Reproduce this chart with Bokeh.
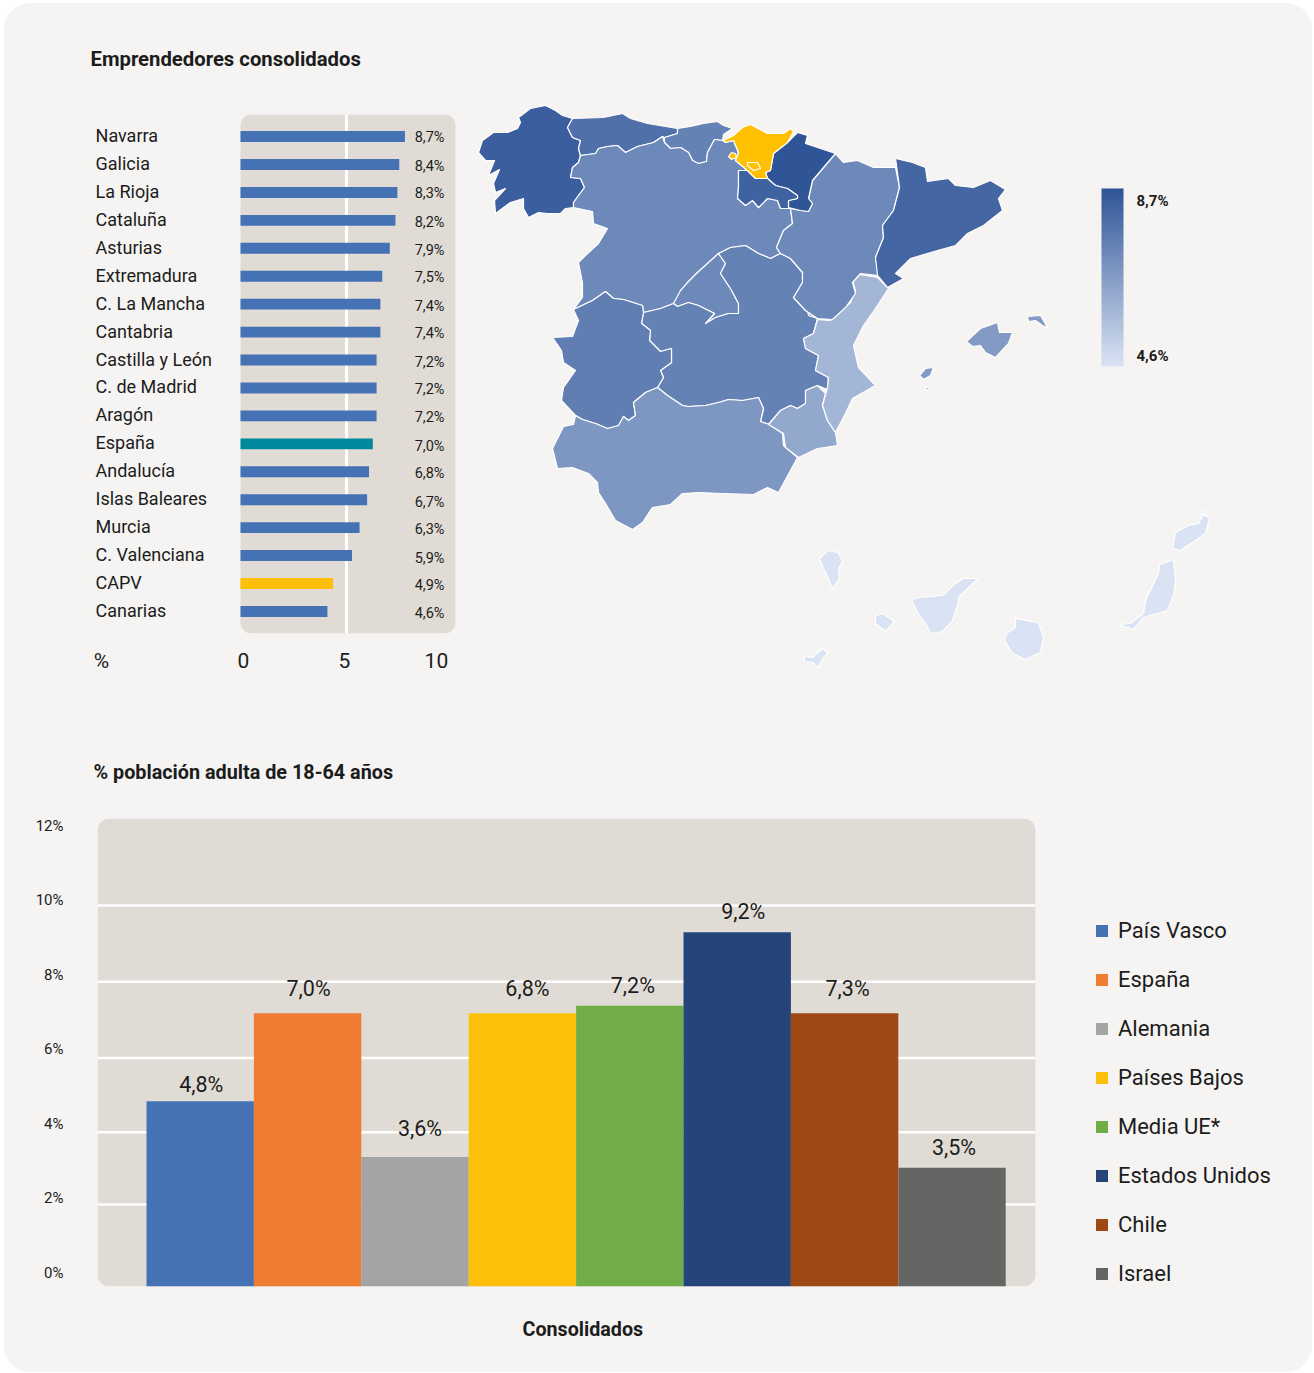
from bokeh.embed import file_html
from bokeh.resources import INLINE
from bokeh.plotting import figure
from bokeh.layouts import column, row
from bokeh.core.properties import value
from bokeh.models import (AllLabels, BoxAnnotation, ColumnDataSource, ColorBar, FactorRange, FixedTicker,
                          Legend, LegendItem, LinearAxis, LinearColorMapper, Range1d, Title)

# ---------- regional bars ----------
regions = ["Navarra", "Galicia", "La Rioja", "Cataluña", "Asturias", "Extremadura", "C. La Mancha", "Cantabria",
           "Castilla y León", "C. de Madrid", "Aragón", "España", "Andalucía", "Islas Baleares", "Murcia",
           "C. Valenciana", "CAPV", "Canarias"]
region_values = [8.7, 8.4, 8.3, 8.2, 7.9, 7.5, 7.4, 7.4, 7.2, 7.2, 7.2, 7.0, 6.8, 6.7, 6.3, 5.9, 4.9, 4.6]
region_labels = ["8,7%", "8,4%", "8,3%", "8,2%", "7,9%", "7,5%", "7,4%", "7,4%", "7,2%", "7,2%", "7,2%", "7,0%",
                 "6,8%", "6,7%", "6,3%", "5,9%", "4,9%", "4,6%"]
value_label_dy = [1, 2, 1, 2, 2, 1, 2, 1, 2, 2, 2, 3, 2, 3, 2, 3, 2, 2]
axis_ticks = {-6.56: "%", 0.14: "0", 4.9: "5", 9.24: "10"}

# ---------- international bars ----------
countries = ["País Vasco", "España", "Alemania", "Países Bajos", "Media UE*", "Estados Unidos", "Chile", "Israel"]
country_heights = [4.86, 7.17, 3.4, 7.17, 7.37, 9.3, 7.17, 3.12]
country_labels = ["4,8%", "7,0%", "3,6%", "6,8%", "7,2%", "9,2%", "7,3%", "3,5%"]
country_colors = ["#4571B5", "#EE7D31", "#A4A4A4", "#FCC00A", "#70AD47", "#254479", "#9E4813", "#656563"]
label_dx = [1, 1, 5, 5, 3, 6, 3, 2]
label_dy = [-17, -25, -28, -25, -20, -21, -25, -20]
gridlines = [2.15, 4.05, 6, 8, 10]
y_ticks = {0: "0%", 2: "2%", 4: "4%", 6: "6%", 8: "8%", 10: "10%", 12: "12%"}

# ---------- map: outlines ----------
R = {
 "Galicia": (8.4, [[(478,152),(482,140),(493,132),(507,132),(517,128),(520,122),(518,117),(530,108),(545,105),(555,110),(562,115),(572,118),(567,127),(572,137),(580,140),(578,148),(580,155),(578,162),(572,167),(570,177),(580,178),(584,187),(578,195),(573,202),(573,207),(565,208),(560,213),(547,213),(538,212),(528,217),(523,208),(523,198),(510,202),(495,213),(494,200),(505,188),(495,192),(493,183),(499,169),(488,175),(494,160),(485,160)]]),
 "Asturias": (7.9, [[(572,118),(603,117),(622,113),(630,118),(647,123),(677,128),(677,133),(664,137),(662,136),(653,142),(637,146),(625,152),(617,145),(607,146),(598,148),(595,153),(580,155),(578,148),(580,140),(572,137),(567,127)]]),
 "Cantabria": (7.4, [[(677,128),(690,126),(703,123),(717,121),(723,125),(732,128),(723,134),(722,140),(714,139),(707,152),(706,161),(698,163),(692,160),(688,152),(680,147),(670,148),(664,142),(664,137),(677,133)]]),
 "Castilla y León": (7.2, [[(580,155),(595,153),(598,148),(607,146),(617,145),(625,152),(637,146),(653,142),(662,136),(664,142),(670,148),(680,147),(688,152),(692,160),(698,163),(706,161),(707,152),(714,139),(722,140),(725,142),(733,140),(738,152),(735,160),(747,170),(738,170),(738,187),(737,198),(745,205),(752,200),(758,207),(767,198),(777,200),(780,208),(790,208),(792,223),(783,230),(776,247),(780,253),(770,258),(758,253),(745,245),(730,247),(718,253),(697,272),(687,282),(673,303),(660,308),(643,312),(642,305),(623,299),(613,298),(605,291),(592,300),(573,309),(582,297),(582,282),(578,262),(585,255),(598,243),(607,228),(593,223),(592,211),(573,207),(573,202),(578,195),(584,187),(580,178),(570,177),(572,167),(578,162)]]),
 "C. de Madrid": (7.2, [[(718,253),(725,263),(720,273),(730,288),(738,303),(738,313),(728,313),(715,317),(705,323),(714,313),(698,305),(688,302),(677,306),(673,303),(680,290),(687,282),(697,272)]]),
 "C. La Mancha": (7.4, [[(643,312),(660,308),(673,303),(677,306),(688,302),(698,305),(714,313),(705,323),(715,317),(728,313),(738,313),(738,303),(730,288),(720,273),(725,263),(718,253),(730,247),(745,245),(758,253),(770,258),(780,253),(790,258),(802,272),(802,282),(793,297),(805,310),(817,318),(813,333),(803,338),(805,348),(818,355),(815,370),(828,377),(827,389),(817,385),(805,390),(805,403),(797,408),(790,405),(780,410),(768,424),(760,421),(763,408),(758,397),(742,400),(728,399),(718,402),(705,405),(688,406),(682,405),(667,395),(657,387),(663,377),(660,370),(671,362),(671,348),(660,351),(649,340),(650,330),(641,323)]]),
 "Extremadura": (7.5, [[(573,309),(592,300),(605,291),(613,298),(623,299),(642,305),(643,312),(641,323),(650,330),(649,340),(660,351),(671,348),(671,362),(660,370),(663,377),(657,387),(645,392),(633,402),(635,415),(628,420),(623,416),(618,425),(607,428),(595,423),(582,419),(575,415),(561,400),(563,387),(575,370),(563,362),(561,350),(552,337),(572,336),(578,320)]]),
 "Andalucía": (6.8, [[(575,415),(582,419),(595,423),(607,428),(618,425),(623,416),(628,420),(635,415),(633,402),(645,392),(657,387),(667,395),(682,405),(688,406),(705,405),(718,402),(728,399),(742,400),(758,397),(763,408),(760,421),(769,424),(782,433),(783,445),(797,457),(790,470),(778,492),(767,487),(753,494),(723,493),(698,492),(682,493),(670,504),(652,507),(642,522),(632,529),(615,520),(605,503),(598,492),(597,482),(588,473),(572,467),(557,468),(552,448),(563,426),(573,424)]]),
 "Murcia": (6.3, [[(768,424),(780,410),(790,405),(797,408),(805,403),(805,390),(817,385),(825,393),(822,405),(827,420),(835,432),(837,445),(817,448),(798,457),(785,447),(783,433)]]),
 "C. Valenciana": (5.9, [[(852,280),(859,274),(877,277),(888,288),(875,308),(863,325),(853,345),(858,367),(875,385),(852,398),(845,413),(835,432),(827,420),(822,405),(827,387),(828,377),(815,370),(818,355),(805,348),(803,338),(813,333),(817,319),(830,320),(833,317),(850,302),(855,290)],
                         [(807,309),(812,307),(822,313),(817,318),(808,315)]]),
 "Aragón": (7.2, [[(835,153),(843,162),(857,160),(873,167),(895,167),(899,187),(893,210),(882,225),(883,237),(875,257),(878,275),(860,273),(852,282),(855,293),(845,307),(832,319),(817,318),(805,310),(793,297),(802,282),(802,272),(790,258),(780,253),(776,247),(783,230),(792,223),(790,208),(800,210),(808,211),(812,203),(808,198),(812,180),(823,167)]]),
 "Cataluña": (8.2, [[(895,158),(912,162),(925,167),(927,181),(948,178),(955,185),(973,187),(990,180),(1005,189),(998,198),(1002,210),(983,225),(967,233),(955,245),(937,250),(910,258),(895,273),(903,278),(887,287),(877,275),(875,257),(883,237),(882,225),(893,210),(899,187)]]),
 "Navarra": (8.7, [[(797,132),(807,135),(805,143),(835,153),(823,167),(812,180),(808,198),(812,203),(808,211),(800,210),(788,207),(788,200),(797,198),(797,195),(787,188),(775,185),(767,178),(765,172),(770,170),(773,153),(787,142)]]),
 "La Rioja": (8.3, [[(738,170),(747,170),(755,178),(767,178),(775,185),(787,188),(797,195),(797,198),(788,200),(788,208),(780,208),(777,200),(767,198),(758,207),(752,200),(745,205),(737,198),(738,187)]]),
 "Islas Baleares": (6.7, [[(966,341),(980,328),(997,322),(999,332),(1012,332),(1008,343),(995,357),(985,352),(980,345),(972,346)],
                          [(1027,316),(1040,315),(1047,327),(1042,325),(1035,320),(1028,321)],
                          [(919,375),(925,368),(933,367),(930,375),(923,379)],
                          [(925,387),(928,387),(929,389),(926,389)]]),
 "Canarias": (4.6, [[(819,558),(827,550),(838,552),(842,561),(838,568),(839,578),(832,588),(828,578),(823,568)],
                    [(804,656),(812,657),(822,648),(827,652),(821,660),(818,667),(812,662),(804,661)],
                    [(875,615),(882,613),(894,621),(885,631),(875,623)],
                    [(911,599),(918,597),(942,595),(955,583),(963,578),(978,578),(968,587),(958,597),(957,605),(952,620),(942,631),(930,633),(925,623),(917,612)],
                    [(1015,618),(1038,622),(1043,637),(1040,652),(1025,659),(1012,653),(1004,640),(1006,633),(1015,627)],
                    [(1118,624),(1130,623),(1143,613),(1145,600),(1158,573),(1159,564),(1173,559),(1175,580),(1173,595),(1167,610),(1143,617),(1133,629)],
                    [(1172,548),(1175,532),(1188,525),(1198,523),(1203,514),(1209,518),(1205,533),(1192,542),(1180,550)],
                    [(1199,513),(1201,509),(1203,510),(1202,514)]]),
}
capv_shapes = [[(723,140),(733,135),(742,127),(750,124),(767,133),(783,133),(790,128),(793,131),(787,142),(773,153),(770,170),(765,172),(767,178),(755,178),(747,170),(735,160),(738,152),(733,140),(725,142)],
               [(728,156),(731,152),(735,153),(736,157),(731,159)],
               [(747,162),(757,162),(760,168),(753,170),(747,165)]]
legend_values = {8.42: "8,7%", 4.85: "4,6%"}

# ---------- style ----------
FONT = "Roboto"
CARD = "#F5F4F2"
PANEL = "#E0DCD5"
BLUE = "#4571B5"
TEAL = "#00889E"
YELLOW = "#FCC00A"
INK = "#1c1c1c"
top, bottomc = (47, 85, 151), (218, 227, 244)
palette = ["#%02x%02x%02x" % tuple(int(round(bottomc[k] + (top[k] - bottomc[k]) * i / 255)) for k in range(3)) for i in range(256)]


def clean(p):
    p.background_fill_alpha = 0
    p.border_fill_alpha = 0
    p.outline_line_color = None
    p.grid.visible = False


def title(p, text, place, align, offset, standoff, size=20, valign="top"):
    p.add_layout(Title(text=text, text_font=FONT, text_font_size=f"{size}px", text_font_style="bold",
                       text_color=INK, align=align, offset=offset, standoff=standoff, vertical_align=valign), place)


# ---------- top-left ----------
FR_L, FR_R = 4, 470        # frame limits on the page, x
PX = 18.9
cats = FactorRange(factors=regions[::-1], range_padding=0.29, range_padding_units="absolute")
p1 = figure(width=466, height=722, x_range=Range1d((FR_L - 240) / PX, (FR_R - 240) / PX), y_range=cats,
            output_backend="svg", toolbar_location=None, min_border_left=0, min_border_right=0,
            min_border_top=111, min_border_bottom=92, x_axis_location=None, y_axis_location=None)
clean(p1)
p1.extra_x_ranges["ticks"] = Range1d((FR_L - 240) / 21.2, (FR_R - 240) / 21.2)
p1.add_layout(BoxAnnotation(left=0, right=215 / PX, fill_color=PANEL, fill_alpha=1, line_color=None,
                            border_radius=11, level="underlay"))
p1.vspan(x=[5], x_range_name="ticks", line_color="white", line_width=3)
bar_colors = [TEAL if r == "España" else YELLOW if r == "CAPV" else BLUE for r in regions]
src1 = ColumnDataSource(dict(y=regions, v=region_values, c=bar_colors, t=region_labels,
                             lx=[-7.67] * 18, vx=[10.79] * 18, dy=value_label_dy))
p1.hbar(y="y", left=0, right="v", height=0.39, fill_color="c", line_color=None, source=src1)
p1.text(x="lx", y="y", text="y", source=src1, text_font=value(FONT), text_font_size="18px", y_offset=-1,
        text_color=INK, text_baseline="middle", text_align="left")
p1.text(x="vx", y="y", text="t", source=src1, text_font=value(FONT), text_font_size="14.5px", y_offset="dy",
        text_color=INK, text_baseline="middle", text_align="right")
ax1 = LinearAxis(x_range_name="ticks", ticker=FixedTicker(ticks=list(axis_ticks)), major_label_overrides=axis_ticks,
                 axis_line_color=None, major_tick_line_color=None, minor_tick_line_color=None,
                 major_label_text_font=FONT, major_label_text_font_size="21px", major_label_text_color=INK,
                 major_label_standoff=9)
p1.add_layout(ax1, "below")
title(p1, "Emprendedores consolidados", "above", "left", 86, 84, 20.3)

# ---------- map ----------
xr, yr = Range1d(470, 1312), Range1d(725, 3)
p2 = figure(width=842, height=722, x_range=xr, y_range=yr, output_backend="svg", toolbar_location=None,
            min_border=0, x_axis_location=None, y_axis_location=None)
clean(p2)
mapper = LinearColorMapper(palette=palette, low=4.6, high=8.7)
xs, ys, vs = [], [], []
for name, (v, shapes) in R.items():
    for s in shapes:
        xs.append([a for a, _ in s])
        ys.append([b for _, b in s])
        vs.append(v)
p2.patches(xs="xs", ys="ys", source=ColumnDataSource(dict(xs=xs, ys=ys, v=vs)),
           fill_color={"field": "v", "transform": mapper}, line_color="white", line_width=1.2, line_join="round")
p2.patches(xs=[[a for a, _ in s] for s in capv_shapes], ys=[[b for _, b in s] for s in capv_shapes],
           fill_color="#FFC000", line_color="white", line_width=1.2, line_join="round")
cb = ColorBar(color_mapper=mapper, width=22, height=178, padding=0, location=(1101 - 470, 725 - 366),
              ticker=FixedTicker(ticks=list(legend_values)), major_label_overrides=legend_values,
              major_label_policy=AllLabels(),
              major_tick_line_color=None, minor_tick_line_color=None, bar_line_color=None, border_line_color=None,
              background_fill_alpha=0, major_label_text_font=FONT, major_label_text_font_size="15px",
              major_label_text_font_style="bold", major_label_text_color=INK, label_standoff=13)
p2.add_layout(cb)

# ---------- bottom ----------
BAR = 107.4                    # pixels per bar slot
x_start, x_end = (97 - 146) / BAR, (1312 - 146) / BAR
box_right = (1035 - 146) / BAR
slots = [i + 0.5 for i, _ in enumerate(countries)]
p3 = figure(width=1308, height=647, x_range=Range1d(x_start, x_end), y_range=Range1d(0, 468 / 38.1), output_backend="svg",
            toolbar_location=None, min_border_left=93, min_border_right=0, min_border_top=93, min_border_bottom=86,
            x_axis_location=None, y_axis_location=None)
clean(p3)
p3.add_layout(BoxAnnotation(right=box_right, fill_color=PANEL, fill_alpha=1, line_color=None, border_radius=12, level="underlay"))
p3.segment(x0=[x_start] * len(gridlines), x1=[box_right] * len(gridlines), y0=gridlines, y1=gridlines,
           line_color="white", line_width=2.5)
src3 = ColumnDataSource(dict(x=slots, h=country_heights, c=country_colors, t=country_labels, dx=label_dx, dy=label_dy))
bars = p3.vbar(x="x", top="h", width=1.0, fill_color="c", line_color=None, source=src3)
p3.text(x="x", y="h", text="t", source=src3, x_offset="dx", y_offset="dy", text_font=value(FONT),
        text_font_size="21.5px", text_color=INK, text_baseline="middle", text_align="center")
p3.extra_y_ranges["lab"] = Range1d(-14 / 37.25, 12 + 7 / 37.25)
ay = LinearAxis(y_range_name="lab", ticker=FixedTicker(ticks=list(y_ticks)), major_label_overrides=y_ticks,
                axis_line_color=None, major_tick_line_color=None, minor_tick_line_color=None,
                major_label_text_font=FONT, major_label_text_font_size="15px", major_label_text_color=INK,
                major_label_standoff=28)
p3.add_layout(ay, "left")
legend = Legend(items=[LegendItem(label=c, renderers=[bars], index=i) for i, c in enumerate(countries)],
                location=(997, 0), orientation="vertical", background_fill_alpha=0, border_line_color=None,
                glyph_width=15, glyph_height=15, label_text_font=FONT, label_text_font_size="22px",
                label_text_color=INK, label_height=22, spacing=24, label_standoff=9, padding=0, margin=0)
p3.add_layout(legend)
title(p3, "% población adulta de 18-64 años", "above", "left", -4, 66, 19.8)
title(p3, "Consolidados", "below", "left", 425, 59, 19.7, "bottom")

root = column(row(p1, column(p2), spacing=0), p3, spacing=0, width=1308, height=1369,
              styles={"background-color": CARD, "border-radius": "26px", "margin-left": "4px", "margin-top": "3px"})
open("out.html", "w").write(file_html(root, INLINE))
